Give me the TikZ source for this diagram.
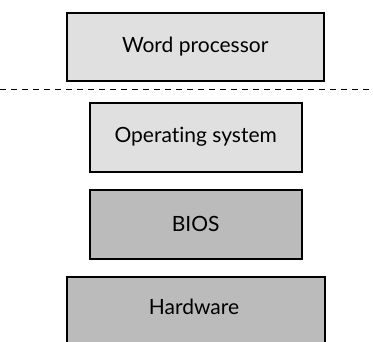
\documentclass[tikz,border=0pt]{standalone}
\usepackage{fontspec}
\setmainfont[Ligatures=NoCommon]{Lato}
\definecolor{lightbox}{HTML}{E0E0E0}
\definecolor{darkbox}{HTML}{BBBBBB}
\begin{document}
\begin{tikzpicture}[x=1pt,y=-1pt,
  layer/.style={draw=black,line width=2.4pt,font=\fontsize{21}{25}\selectfont,inner sep=0pt,anchor=north west},
  lightlayer/.style={layer,fill=lightbox},
  darklayer/.style={layer,fill=darkbox}]
\clip (0,0) rectangle (373,341);
\useasboundingbox (0,0) rectangle (373,341);
\node[lightlayer,minimum width=257pt,minimum height=68pt] (wp) at (65.5,11.5) {Word processor};
\draw[dash pattern=on 6pt off 5pt,line width=0.9pt] (0,89) coordinate (dl) -- (373,89) coordinate (dr);
\node[lightlayer,minimum width=212pt,minimum height=69pt] (os) at (88.5,101.5) {Operating system};
\node[darklayer,minimum width=212pt,minimum height=69pt] (bios) at (88.5,188.5) {BIOS};
\node[darklayer,minimum width=258pt,minimum height=80pt] (hw) at (65.5,275.5) {};
\node[font=\fontsize{21}{25}\selectfont] (hwt) at (194,307) {Hardware};
\end{tikzpicture}
\end{document}
